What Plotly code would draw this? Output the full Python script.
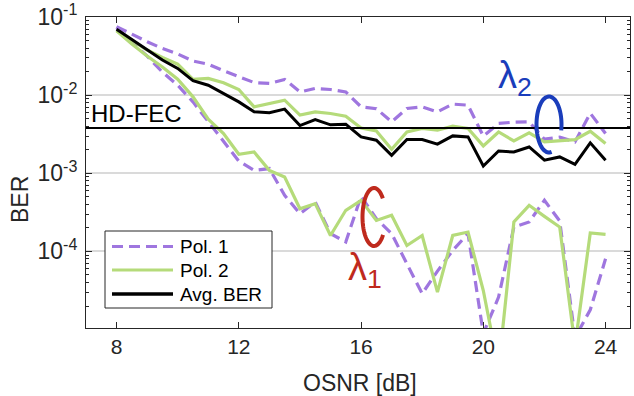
import math
import plotly.graph_objects as go

osnr = [8, 8.5, 9, 9.5, 10, 10.5, 11, 11.5, 12, 12.5, 13, 13.5, 14, 14.5, 15, 15.5,
        16, 16.5, 17, 17.5, 18, 18.5, 19, 19.5, 20, 20.5, 21, 21.5, 22, 22.5, 23, 23.5, 24]

lam2_pol1 = [0.0752, 0.0600, 0.0483, 0.0396, 0.0336, 0.0273, 0.0249, 0.0205, 0.0172, 0.0145,
             0.0141, 0.0159, 0.0110, 0.0122, 0.0118, 0.0110, 0.00708, 0.00671, 0.00455, 0.00675,
             0.00708, 0.00611, 0.00767, 0.00745, 0.00298, 0.00434, 0.00451, 0.00455, 0.00273,
             0.00290, 0.00252, 0.00587, 0.00323]
lam2_pol2 = [0.0668, 0.0507, 0.0378, 0.0304, 0.0249, 0.0159, 0.0164, 0.0144, 0.0118, 0.00708,
             0.00782, 0.00863, 0.00555, 0.00611, 0.00582, 0.00538, 0.00380, 0.00348, 0.00203,
             0.00338, 0.00374, 0.00356, 0.00401, 0.00374, 0.00224, 0.00338, 0.00259, 0.00329,
             0.00252, 0.00259, 0.00270, 0.00345, 0.00240]
avg_ber = [0.0695, 0.0518, 0.0378, 0.0281, 0.0220, 0.0153, 0.0134, 0.0105, 0.00820, 0.00611,
           0.00594, 0.00662, 0.00408, 0.00488, 0.00417, 0.00425, 0.00292, 0.00265, 0.00170,
           0.00270, 0.00270, 0.00236, 0.00301, 0.00292, 0.00124, 0.00193, 0.00187, 0.00217,
           0.00147, 0.00162, 0.00130, 0.00245, 0.00147]
lam1_pol1 = [0.0730, 0.0479, 0.0316, 0.0197, 0.0134, 0.00820, 0.00455, 0.00251, 0.00143, 0.00109,
             0.00115, 5.22e-4, 3.04e-4, 4.29e-4, 1.69e-4, 1.32e-4, 5.07e-4, 2.63e-4, 1.69e-4,
             6.95e-5, 2.88e-5, 5.6e-5, 1.03e-4, 1.69e-4, 8.9e-6, 2.6e-5, 2.05e-4, 2.38e-4,
             4.51e-4, 2.45e-4, 7.9e-6, 1.79e-5, 8.05e-5]
lam1_pol2 = [0.0668, 0.0451, 0.0316, 0.0229, 0.0160, 0.00951, 0.00492, 0.00323, 0.00175, 0.00187,
             0.00109, 8.97e-4, 3.52e-4, 4.09e-4, 1.60e-4, 3.36e-4, 4.51e-4, 2.49e-4, 2.90e-4,
             1.19e-4, 1.60e-4, 3.01e-5, 1.60e-4, 1.77e-4, 3.16e-5, 3.2e-6, 2.38e-4, 3.89e-4,
             2.81e-4, 2.05e-4, 6.2e-6, 1.72e-4, 1.65e-4]

hd_fec = 3.8e-3
x_ticks = [8, 12, 16, 20, 24]
y_tickvals = [1e-4, 1e-3, 1e-2, 1e-1]
y_ticktext = ["10<sup>-4</sup>", "10<sup>-3</sup>", "10<sup>-2</sup>", "10<sup>-1</sup>"]
legend_labels = ["Pol. 1", "Pol. 2", "Avg. BER"]

PURPLE = "#9f76df"
GREEN = "#b5db7a"
BLACK = "#000000"
BLUE = "#1a3dbb"
RED = "#bf2a1d"
AX = "#262626"
FONT = "Liberation Sans, Arial, sans-serif"
DASH = "11px,6px"
LW = 3.2

fig = go.Figure()
fig.add_trace(go.Scatter(x=osnr, y=lam1_pol1, mode="lines", name="Pol. 1 (λ1)",
                         line=dict(color=PURPLE, width=LW, dash=DASH)))
fig.add_trace(go.Scatter(x=osnr, y=lam2_pol1, mode="lines", name="Pol. 1",
                         line=dict(color=PURPLE, width=LW, dash=DASH)))
fig.add_trace(go.Scatter(x=osnr, y=lam1_pol2, mode="lines", name="Pol. 2 (λ1)",
                         line=dict(color=GREEN, width=LW)))
fig.add_trace(go.Scatter(x=osnr, y=lam2_pol2, mode="lines", name="Pol. 2",
                         line=dict(color=GREEN, width=LW)))
fig.add_trace(go.Scatter(x=osnr, y=avg_ber, mode="lines", name="Avg. BER",
                         line=dict(color=BLACK, width=3)))

# plot area geometry (pixels)
L, T, W, H = 86, 17, 544, 311
FIG_W, FIG_H = 634, 396


def to_paper(px, py):
    return (px - L) / W, (T + H - py) / H


def arc_path(cx, cy, rx, ry, t0, t1, n=60):
    pts = []
    for i in range(n + 1):
        t = math.radians(t0 + (t1 - t0) * i / n)
        pts.append(to_paper(cx + rx * math.cos(t), cy - ry * math.sin(t)))
    return "M " + " L ".join(f"{a:.5f},{b:.5f}" for a, b in pts)


shapes = [
    dict(type="line", xref="paper", yref="y", x0=0, x1=1, y0=hd_fec, y1=hd_fec,
         line=dict(color="black", width=2), layer="above"),
    dict(type="path", xref="paper", yref="paper",
         path=arc_path(549, 124.5, 12.5, 28, -12, 282),
         line=dict(color=BLUE, width=4)),
    dict(type="path", xref="paper", yref="paper",
         path=arc_path(374, 217, 11.5, 29, 40, 322),
         line=dict(color=RED, width=4)),
]

# legend box (drawn manually to match the reference's compact layout)
bx0, by0 = to_paper(105, 308)
bx1, by1 = to_paper(272, 231)
shapes.append(dict(type="rect", xref="paper", yref="paper", x0=bx0, y0=by0, x1=bx1, y1=by1,
                   fillcolor="white", line=dict(color=AX, width=1), layer="above"))
legend_styles = [dict(color=PURPLE, width=LW, dash=DASH),
                 dict(color=GREEN, width=LW),
                 dict(color=BLACK, width=3.5)]
legend_rows = [246.5, 270, 294]
annotations = []
for lab, sty, ry in zip(legend_labels, legend_styles, legend_rows):
    lx0, ly = to_paper(112, ry)
    lx1, _ = to_paper(173, ry)
    shapes.append(dict(type="line", xref="paper", yref="paper", x0=lx0, x1=lx1, y0=ly, y1=ly,
                       line=sty, layer="above"))
    tx, _ = to_paper(178, ry)
    annotations.append(dict(text=lab, x=tx, y=ly, xref="paper", yref="paper",
                            xanchor="left", yanchor="middle", showarrow=False,
                            font=dict(size=19, color="black", family=FONT)))

hx, hy = to_paper(89, 113)
l2x, l2y = to_paper(515, 78)
l1x, l1y = to_paper(365, 270)
ox, oy = to_paper(360, 383)
bex, bey = to_paper(20, 200)
annotations += [
    dict(text="HD-FEC", x=hx, y=hy, xref="paper", yref="paper", xanchor="left",
         yanchor="middle", showarrow=False, font=dict(size=24, color="black", family=FONT)),
    dict(text="λ<sub>2</sub>", x=l2x, y=l2y, xref="paper", yref="paper", showarrow=False,
         xanchor="center", yanchor="middle",
         font=dict(size=38, color=BLUE, family=FONT)),
    dict(text="λ<sub>1</sub>", x=l1x, y=l1y, xref="paper", yref="paper", showarrow=False,
         xanchor="center", yanchor="middle",
         font=dict(size=38, color=RED, family=FONT)),
    dict(text="OSNR [dB]", x=ox, y=oy, xref="paper", yref="paper", showarrow=False,
         xanchor="center", yanchor="middle", font=dict(size=23, color=AX, family=FONT)),
    dict(text="BER", x=bex, y=bey, xref="paper", yref="paper", showarrow=False,
         textangle=-90, xanchor="center", yanchor="middle",
         font=dict(size=23, color=AX, family=FONT)),
]

minor_vals = [m * 10 ** e for e in range(-5, -1) for m in range(2, 10)]

fig.update_layout(
    width=FIG_W, height=FIG_H,
    margin=dict(l=L, r=FIG_W - L - W, t=T, b=FIG_H - T - H),
    paper_bgcolor="white", plot_bgcolor="white",
    font=dict(family=FONT, color=AX),
    showlegend=False,
    shapes=shapes, annotations=annotations,
    xaxis=dict(range=[7, 24.8], tickvals=x_ticks, ticks="inside", ticklen=6,
               tickcolor=AX, showline=True, linecolor=AX, linewidth=1, mirror="allticks",
               showgrid=False, zeroline=False, automargin=False,
               tickfont=dict(size=21, color=AX)),
    yaxis=dict(type="log", range=[-4.98, -1], tickvals=y_tickvals, ticktext=y_ticktext,
               ticks="inside", ticklen=6, tickcolor=AX, showline=True, linecolor=AX,
               linewidth=1, mirror="allticks", showgrid=True, gridcolor="#dadada",
               gridwidth=1.5, zeroline=False, automargin=False,
               ticklabelstandoff=3,
               tickfont=dict(size=23, color=AX),
               minor=dict(tickvals=minor_vals, ticks="inside", ticklen=3, tickcolor=AX,
                          showgrid=False)),
)

fig.write_html("out.html", config={"displayModeBar": False},
               post_script="document.body.style.margin='0px';document.body.style.overflow='hidden';")
